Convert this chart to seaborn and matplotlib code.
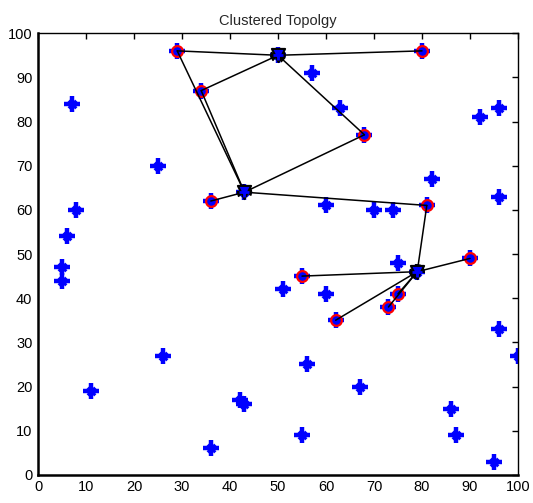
import matplotlib
matplotlib.use("Agg")
import matplotlib.pyplot as plt
import seaborn as sns
import pandas as pd

# Sensor node positions (field of 100 x 100)
node_x = [29, 50, 80, 34, 57, 63, 68, 7, 25, 43, 36, 8, 6, 60, 70, 74, 81, 82,
          92, 96, 96, 5, 5, 75, 79, 90, 55, 51, 60, 75, 73, 62, 96, 100, 26, 56,
          67, 11, 42, 43, 86, 87, 55, 36, 95]
node_y = [96, 95, 96, 87, 91, 83, 77, 84, 70, 64, 62, 60, 54, 61, 60, 60, 61, 67,
          81, 83, 63, 47, 44, 48, 46, 49, 45, 42, 41, 41, 38, 35, 33, 27, 27, 25,
          20, 19, 17, 16, 15, 9, 9, 6, 3]

# Cluster members (ringed) and cluster heads
member_x = [29, 80, 34, 68, 36, 81, 55, 90, 75, 73, 62]
member_y = [96, 96, 87, 77, 62, 61, 45, 49, 41, 38, 35]
head_x = [50, 43, 79]
head_y = [95, 64, 46]

# Links drawn between nodes (from -> to)
src_x = [29, 80, 34, 68, 68, 29, 34, 36, 81, 81, 55, 62, 73, 75, 90]
src_y = [96, 96, 87, 77, 77, 96, 87, 62, 61, 61, 45, 35, 38, 41, 49]
dst_x = [50, 50, 50, 50, 43, 43, 43, 43, 43, 79, 79, 79, 79, 79, 79]
dst_y = [95, 95, 95, 95, 64, 64, 64, 64, 64, 46, 46, 46, 46, 46, 46]

nodes = pd.DataFrame({"x": node_x, "y": node_y})
members = pd.DataFrame({"x": member_x, "y": member_y})
heads = pd.DataFrame({"x": head_x, "y": head_y})

sns.set_style("white")
plt.rcParams["font.family"] = ["Liberation Sans", "DejaVu Sans"]

fig = plt.figure(figsize=(5.33, 5.03), dpi=100)
ax = fig.add_axes([0.0713, 0.056, 0.9006, 0.878])

# all nodes as bold blue crosses
sns.scatterplot(data=nodes, x="x", y="y", marker="+", s=120, color="blue",
                linewidth=3.2, ax=ax, zorder=2)
sns.scatterplot(data=nodes, x="x", y="y", marker="x", s=30, color="blue",
                linewidth=2.2, ax=ax, zorder=2)

# cluster members: red ring filled blue
sns.scatterplot(data=members, x="x", y="y", marker="o", s=60, color="blue",
                edgecolor="red", linewidth=1.6, ax=ax, zorder=3)

# links toward the cluster heads
for x0, y0, x1, y1 in zip(src_x, src_y, dst_x, dst_y):
    ax.annotate("", xy=(x1, y1), xytext=(x0, y0),
                arrowprops=dict(arrowstyle="-|>", color="black", lw=1.1,
                                mutation_scale=9, shrinkA=0, shrinkB=0),
                zorder=4)

# cluster heads
sns.scatterplot(data=heads, x="x", y="y", marker="v", s=90, color="blue",
                edgecolor="black", linewidth=1.5, ax=ax, zorder=5)
sns.scatterplot(data=heads, x="x", y="y", marker="+", s=50, color="blue",
                linewidth=2, ax=ax, zorder=6)

ax.set_xlim(0, 100)
ax.set_ylim(0, 100)
ax.set_xticks(range(0, 101, 10))
ax.set_yticks(range(0, 101, 10))
ax.set_xlabel("")
ax.set_ylabel("")
ax.set_title("Clustered Topolgy", fontsize=10.5, pad=6)
ax.tick_params(direction="in", length=4, width=1, top=True, right=True,
               labelsize=10.5, pad=4, colors="black")
for side, sp in ax.spines.items():
    sp.set_visible(True)
    sp.set_color("black")
    sp.set_linewidth(1.8 if side in ("left", "bottom") else 1.0)

fig.savefig("out.png", dpi=100)
